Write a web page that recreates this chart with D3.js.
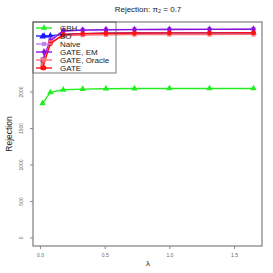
<!DOCTYPE html>
<html>
<head>
<meta charset="utf-8">
<script src="https://cdn.jsdelivr.net/npm/d3@7"></script>
<style>
  body { margin: 0; background: #fff; }
  text { font-family: "Liberation Sans", Arial, sans-serif; }
</style>
</head>
<body>
<svg id="chart" width="273" height="273"></svg>
<script>
// lambda values and rejection counts
var lambdas = [0.02, 0.08, 0.18, 0.33, 0.51, 0.73, 1.0, 1.31, 1.65];
var gbh = [1845, 1995, 2030, 2040, 2045, 2047, 2048, 2048, 2048];
var bo = [2760, 2770, 2790, 2800, 2805, 2808, 2810, 2810, 2812];
var naive = [2450, 2720, 2840, 2850, 2855, 2858, 2860, 2860, 2862];
var gateEM = [2420, 2700, 2835, 2848, 2852, 2855, 2857, 2858, 2860];
var gateOracle = [2370, 2680, 2770, 2780, 2785, 2787, 2788, 2788, 2790];
var gate = [2330, 2660, 2790, 2800, 2805, 2808, 2810, 2810, 2812];

var seriesNames = ["GBH", "BO", "Naive", "GATE, EM", "GATE, Oracle", "GATE"];
var xTicks = [0.0, 0.5, 1.0, 1.5];
var yTicks = [0, 500, 1000, 1500, 2000];

var series = [
  {name: seriesNames[0], values: gbh, color: "#22ee22", symbol: d3.symbolTriangle},
  {name: seriesNames[1], values: bo, color: "#1a1aff", symbol: d3.symbolTriangle},
  {name: seriesNames[2], values: naive, color: "#c080f0", symbol: d3.symbolSquare},
  {name: seriesNames[3], values: gateEM, color: "#8a10e0", symbol: d3.symbolDiamond},
  {name: seriesNames[4], values: gateOracle, color: "#ff7070", symbol: d3.symbolSquare},
  {name: seriesNames[5], values: gate, color: "#ff1010", symbol: d3.symbolCircle}
];

var svg = d3.select("#chart");
var box = {left: 33, right: 262, top: 22, bottom: 246};

// scales
var x = d3.scaleLinear().domain([-0.054, 1.716]).range([box.left, box.right]);
var y = d3.scaleLinear().domain([-110, 2959]).range([box.bottom, box.top]);

// title
svg.append("text")
  .attr("x", 148)
  .attr("y", 12)
  .attr("text-anchor", "middle")
  .style("font-size", "8px")
  .attr("fill", "#222")
  .text("Rejection: \u03C0\u2082 = 0.7");

// axes
var xAxis = d3.axisBottom(x).tickValues(xTicks).tickFormat(d3.format(".1f")).tickSize(3);
var yAxis = d3.axisLeft(y).tickValues(yTicks).tickFormat(d3.format("d")).tickSize(3);

var gx = svg.append("g")
  .attr("transform", "translate(0," + box.bottom + ")")
  .call(xAxis);
gx.select(".domain").remove();
gx.selectAll("line").attr("stroke", "#888");
gx.selectAll("text")
  .attr("y", 7)
  .attr("fill", "#666")
  .style("font-size", "5px");

var gy = svg.append("g")
  .attr("transform", "translate(" + box.left + ",0)")
  .call(yAxis);
gy.select(".domain").remove();
gy.selectAll("line").attr("stroke", "#888");
gy.selectAll("text")
  .attr("x", null)
  .attr("dy", null)
  .attr("transform", function(d) { return "translate(-10," + y(d) + ") rotate(-90)"; })
  .attr("y", 0)
  .attr("text-anchor", "middle")
  .attr("fill", "#666")
  .style("font-size", "5px");
gy.selectAll(".tick").attr("transform", null);
gy.selectAll(".tick line").attr("y1", function(d) { return y(d); }).attr("y2", function(d) { return y(d); });

// axis labels
svg.append("text")
  .attr("x", 148)
  .attr("y", 266)
  .attr("text-anchor", "middle")
  .style("font-size", "8px")
  .attr("fill", "#222")
  .text("\u03BB");

svg.append("text")
  .attr("transform", "translate(12,134) rotate(-90)")
  .attr("text-anchor", "middle")
  .style("font-size", "8.5px")
  .attr("fill", "#222")
  .text("Rejection");

// the lines
var line = d3.line()
  .x(function(d, i) { return x(lambdas[i]); })
  .y(function(d) { return y(d); });

series.forEach(function(s) {
  svg.append("path")
    .attr("fill", "none")
    .attr("stroke", s.color)
    .attr("stroke-width", 1.4)
    .attr("d", line(s.values));

  svg.selectAll(null)
    .data(s.values)
    .enter().append("path")
    .attr("transform", function(d, i) { return "translate(" + x(lambdas[i]) + "," + y(d) + ")"; })
    .attr("d", d3.symbol().type(s.symbol).size(18))
    .attr("fill", s.color);
});

// plot box
svg.append("rect")
  .attr("x", box.left)
  .attr("y", box.top)
  .attr("width", box.right - box.left)
  .attr("height", box.bottom - box.top)
  .attr("fill", "none")
  .attr("stroke", "#888")
  .attr("stroke-width", 1.3);

// legend
var legend = svg.append("g");
legend.append("rect")
  .attr("x", box.left)
  .attr("y", box.top)
  .attr("width", 83)
  .attr("height", 51)
  .attr("fill", "none")
  .attr("stroke", "#555")
  .attr("stroke-width", 0.8);

series.forEach(function(s, i) {
  var ly = 28 + i * 8;
  legend.append("line")
    .attr("x1", 36).attr("x2", 52)
    .attr("y1", ly).attr("y2", ly)
    .attr("stroke", s.color)
    .attr("stroke-width", 1.4);
  legend.append("path")
    .attr("transform", "translate(44," + ly + ")")
    .attr("d", d3.symbol().type(s.symbol).size(18))
    .attr("fill", s.color);
  legend.append("text")
    .attr("x", 60)
    .attr("y", ly + 3)
    .style("font-size", "8px")
    .attr("fill", "#222")
    .text(s.name);
});
</script>
</body>
</html>
